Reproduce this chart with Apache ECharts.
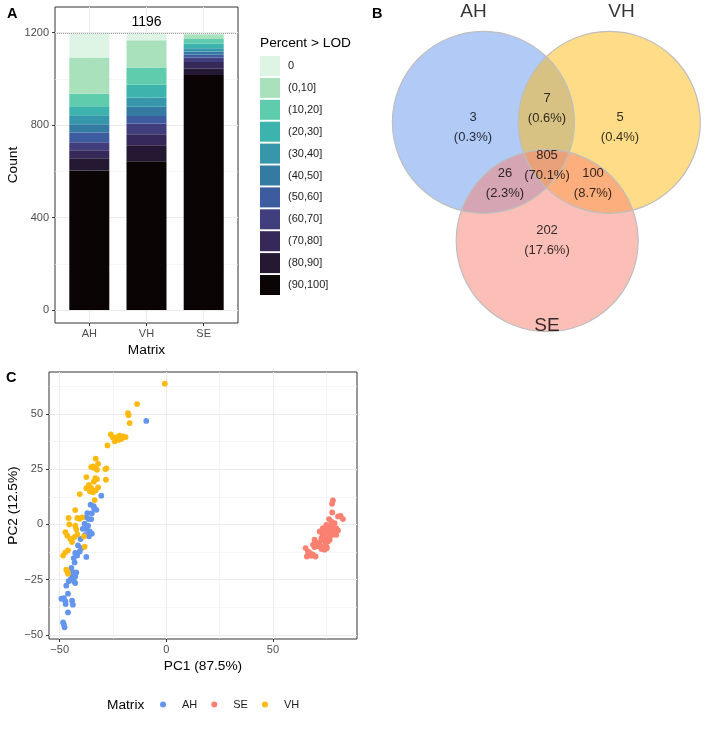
<!DOCTYPE html>
<html><head><meta charset="utf-8">
<script src="https://cdn.jsdelivr.net/npm/echarts@6/dist/echarts.min.js"></script>
<style>html,body{margin:0;padding:0;background:#fff}#c{width:716px;height:730px}</style>
</head><body><div id="c"></div>
<script>
// ---------- DATA ----------
const matrices = ['AH', 'VH', 'SE'];
const lodLevels = ['0', '(0,10]', '(10,20]', '(20,30]', '(30,40]', '(40,50]', '(50,60]', '(60,70]', '(70,80]', '(80,90]', '(90,100]'];
const countAH = [104, 156, 54, 39, 39, 36, 42, 35, 34, 53, 604];
const countVH = [29, 118, 74, 55, 41, 39, 33, 46, 48, 69, 644];
const countSE = [3, 20, 20, 20, 14, 13, 14, 19, 29, 27, 1017];
const yTicksA = [0, 400, 800, 1200];
const yMinorA = [200, 600, 1000];

const vennSetNames = ['AH', 'VH', 'SE'];
const vennRegions = ['AH', 'AH&VH', 'VH', 'AH&VH&SE', 'AH&SE', 'VH&SE', 'SE'];
const vennCounts = [3, 7, 5, 805, 26, 100, 202];

const pcaAH = [[-9.4,46.8],[-30.5,13.0],[-35.5,8.9],[-33.9,7.4],[-32.8,6.6],[-34.9,5.1],[-34.0,8.3],
  [-37.0,5.1],[-37.5,3.3],[-36.4,2.4],[-35.2,2.4],[-38.3,0.3],[-36.7,-0.6],[-37.5,-2.1],[-35.9,-3.2],
  [-34.9,-4.2],[-36.3,-5.4],[-38.0,-4.7],[-39.2,-2.0],[-40.2,-6.6],[-41.4,-9.5],[-39.8,-10.7],[-40.6,-12.2],
  [-42.7,-12.9],[-43.4,-15.2],[-43.0,-17.2],[-41.8,-14.0],[-37.5,-14.7],[-44.5,-19.7],[-43.8,-21.7],
  [-42.2,-21.7],[-42.7,-23.5],[-44.8,-24.7],[-45.8,-25.7],[-46.9,-27.7],[-43.3,-25.7],[-42.7,-26.5],
  [-44.0,-23.0],[-46.1,-31.3],[-48.0,-33.3],[-49.2,-33.6],[-47.3,-34.8],[-47.2,-36.0],[-44.2,-34.5],
  [-43.8,-36.3],[-46.1,-39.8],[-48.4,-44.3],[-48.0,-45.3],[-47.7,-46.5]];
const pcaVH = [[-0.7,63.6],[-13.7,54.4],[-18.0,50.3],[-17.7,49.4],[-17.2,45.8],
  [-26.0,40.7],[-25.0,39.3],[-24.2,37.6],[-23.1,39.5],[-21.9,40.1],[-21.1,38.6],[-20.3,39.8],[-19.1,39.5],[-22.5,38.2],
  [-27.6,35.7],[-33.1,29.7],[-35.2,25.9],[-33.6,25.5],[-32.0,27.4],[-32.5,24.7],[-34.3,26.2],[-28.6,25.0],[-28.1,25.3],
  [-37.5,21.4],[-33.3,20.9],[-32.5,20.5],[-28.3,20.2],[-34.0,19.3],
  [-36.3,17.9],[-37.5,16.4],[-35.2,16.4],[-34.4,14.5],[-33.1,15.4],[-32.0,16.7],[-35.8,15.0],
  [-40.6,13.7],[-33.6,11.0],[-42.7,6.5],[-45.8,2.9],[-45.5,0.0],[-41.7,2.9],[-40.6,2.6],[-39.5,3.2],
  [-42.7,-0.6],[-42.2,-2.2],[-47.3,-3.5],[-46.4,-5.1],[-45.0,-6.6],[-44.2,-8.0],[-43.0,-5.7],[-41.7,-4.5],
  [-38.6,-5.4],[-38.3,-10.1],[-46.1,-11.7],[-47.3,-12.6],[-48.4,-14.1],[-46.4,-21.2],[-46.1,-22.3],[-46.9,-20.5]];
const pcaSE = [[78.1,10.8],[77.7,9.3],[77.8,5.4],[81.7,3.9],[82.8,2.4],[80.5,3.6],
  [76.3,2.4],[77.3,1.4],[78.9,0.6],[75.0,-0.2],[76.6,-0.6],[78.1,-0.9],[79.7,-1.7],[80.5,-2.7],
  [73.4,-1.7],[74.7,-2.4],[75.8,-3.2],[76.9,-3.9],[78.9,-3.6],[79.7,-4.7],
  [71.9,-3.2],[73.1,-4.2],[74.2,-5.1],[75.3,-6.2],[76.6,-5.4],[78.1,-4.7],
  [72.7,-6.2],[73.8,-6.9],[74.7,-8.1],[75.8,-7.7],[76.6,-6.9],
  [69.5,-6.9],[70.3,-8.4],[71.6,-9.2],[72.7,-9.9],[73.8,-10.7],[75.0,-9.9],
  [68.8,-9.2],[69.5,-10.2],[71.1,-9.9],[71.9,-8.1],
  [65.3,-10.7],[66.4,-12.2],[67.5,-13.0],[68.8,-13.7],[70.0,-14.5],[65.9,-14.5],[67.9,-14.2],
  [72.7,-11.1],[74.2,-11.4],[75.3,-10.7],[75.8,-0.9],[76.9,-2.4],[78.1,-2.4]];
const pcaLegendOrder = ['AH', 'SE', 'VH'];
const xTicksC = [-50, 0, 50];
const xMinorC = [-25, 25, 75];
const yTicksC = [-50, -25, 0, 25, 50];
const yMinorC = [-37.5, -12.5, 12.5, 37.5, 62.5];

// ---------- STYLE / LAYOUT ----------
const FONT = "'Liberation Sans', Arial, Helvetica, sans-serif";
const lodColors = ['#DEF5E5', '#A8E1BC', '#5FCDAD', '#3CB4AD', '#3597A9', '#357AA2', '#3C5C9F', '#413E7E', '#37285A', '#251833', '#0B0405'];
const matrixColors = { AH: '#6495ED', VH: '#FFB90F', SE: '#FA8072' };
const vennLayout = { cx: [113.4, 239.3, 177.2], cy: [122.3, 122.3, 240.7], r: 91 };
const vennLabelPos = [[103, 127], [177, 108], [250, 127], [177, 165], [135, 183], [223, 183], [177, 240]];
const vennNamePos = [[103.5, 12], [251.5, 12], [177, 326]];
const Y_A = { min: -56, max: 1311 };

const TICK = { color: '#4D4D4D', fontSize: 11, fontFamily: FONT };
const TITLE = { color: '#000', fontSize: 13.7, fontFamily: FONT };
const HIDDEN_LABEL = { show: true, position: 'inside', formatter: '{b}', color: '#000', fontFamily: FONT };
const NO_LINE = { show: false, onZero: false };

function hexA(hex, a) {
  const n = parseInt(hex.slice(1), 16);
  return `rgba(${(n >> 16) & 255},${(n >> 8) & 255},${n & 255},${a})`;
}
function gridLines(xi, yi, xs, ys, width, color) {
  return {
    type: 'line', xAxisIndex: xi, yAxisIndex: yi, data: [], silent: true, z: 0,
    markLine: {
      z: 0, zlevel: 0,
      silent: true, symbol: ['none', 'none'], animation: false, label: { show: false },
      lineStyle: { color, width, type: 'solid' }, emphasis: { disabled: true },
      data: [...xs.map(v => ({ xAxis: v })), ...ys.map(v => ({ yAxis: v }))]
    }
  };
}
const minus = v => String(v).replace('-', '\u2212');

const countsByMatrix = { AH: countAH, VH: countVH, SE: countSE };
const totalA = countAH.reduce((a, b) => a + b, 0);

const barSeries = lodLevels.map((lv, i) => ({
  name: lv, type: 'bar', stack: 'lod', xAxisIndex: 3, yAxisIndex: 3, barWidth: 40, z: 2,
  itemStyle: { color: lodColors[i] }, emphasis: { disabled: true },
  data: matrices.map(m => countsByMatrix[m][i])
})).reverse();

const totalLine = {
  type: 'line', xAxisIndex: 0, yAxisIndex: 0, data: [], silent: true, z: 4,
  markLine: {
    z: 6,
    silent: true, symbol: ['none', 'none'], animation: false,
    lineStyle: { color: '#9A9A9A', width: 1, type: 'dotted' },
    label: { show: true, position: 'insideMiddleTop', formatter: String(totalA), color: '#000', fontSize: 14, fontFamily: FONT, distance: 4 },
    data: [{ yAxis: totalA }]
  }
};

const vennTotal = vennCounts.reduce((a, b) => a + b, 0);
const vennCircleData = vennSetNames.map((s, i) => [vennLayout.cx[i], vennLayout.cy[i], vennLayout.r, i]);

function circleRender(fill) {
  return function (params, api) {
    const c = api.coord([api.value(0), api.value(1)]);
    const r = api.size([api.value(2), 0])[0];
    const col = matrixColors[vennSetNames[api.value(3)]];
    return {
      type: 'circle', shape: { cx: c[0], cy: c[1], r: r },
      style: fill ? { fill: hexA(col, 0.5), stroke: 'none' } : { fill: 'none', stroke: '#BEBEBE', lineWidth: 1.2 }
    };
  };
}

const option = {
  animation: false,
  backgroundColor: '#fff',
  textStyle: { fontFamily: FONT },
  title: [
    { text: 'A', left: 7, top: 6, padding: 0, textStyle: { fontSize: 14.5, fontWeight: 'bold', color: '#000', fontFamily: FONT } },
    { text: 'B', left: 372, top: 6, padding: 0, textStyle: { fontSize: 14.5, fontWeight: 'bold', color: '#000', fontFamily: FONT } },
    { text: 'C', left: 6, top: 370, padding: 0, textStyle: { fontSize: 14.5, fontWeight: 'bold', color: '#000', fontFamily: FONT } },
    { text: 'Percent > LOD', left: 260, top: 36, padding: 0, textStyle: { fontSize: 13.7, fontWeight: 'normal', color: '#000', fontFamily: FONT } },
    { text: 'Matrix', left: 107, top: 698, padding: 0, textStyle: { fontSize: 13.7, fontWeight: 'normal', color: '#000', fontFamily: FONT } }
  ],
  legend: [
    {
      data: lodLevels, orient: 'vertical', left: 260, top: 56, padding: 0,
      itemWidth: 20, itemHeight: 20, itemGap: 1.9, icon: 'rect', selectedMode: false,
      textStyle: { color: '#1A1A1A', fontSize: 11, fontFamily: FONT, padding: [0, 0, 0, 3] }
    },
    {
      data: pcaLegendOrder, orient: 'horizontal', left: 160, top: 699, padding: 0,
      itemWidth: 6, itemHeight: 6, itemGap: 14, icon: 'circle', selectedMode: false,
      textStyle: { color: '#1A1A1A', fontSize: 11, fontFamily: FONT, padding: [0, 0, 0, 11] }
    }
  ],
  grid: [
    { left: 55, top: 7, width: 183, height: 316, show: true, borderColor: '#333', borderWidth: 1, backgroundColor: 'transparent' },
    { left: 370, top: 0, width: 346, height: 340, show: false },
    { left: 49, top: 372, width: 308, height: 267, show: true, borderColor: '#333', borderWidth: 1, backgroundColor: 'transparent' },
    { left: 60.7, top: 7, width: 171.6, height: 316, show: false }
  ],
  xAxis: [
    { gridIndex: 0, type: 'value', min: 0, max: 1, show: false },
    { gridIndex: 1, type: 'value', min: 0, max: 346, show: false },
    {
      gridIndex: 2, type: 'value', min: -55, max: 89.4,
      axisLine: NO_LINE, splitLine: { show: false },
      axisTick: { show: true, customValues: xTicksC, length: 3, lineStyle: { color: '#333' } },
      axisLabel: { customValues: xTicksC, margin: 5, ...TICK, formatter: minus },
      name: 'PC1 (87.5%)', nameLocation: 'middle', nameGap: 20, nameTextStyle: TITLE
    },
    {
      gridIndex: 3, type: 'category', data: matrices, boundaryGap: true,
      axisLine: NO_LINE, splitLine: { show: false },
      axisTick: { show: true, alignWithLabel: true, length: 3, lineStyle: { color: '#333' } },
      axisLabel: { margin: 5, ...TICK },
      name: 'Matrix', nameLocation: 'middle', nameGap: 20, nameTextStyle: TITLE
    }
  ],
  yAxis: [
    {
      gridIndex: 0, type: 'value', min: Y_A.min, max: Y_A.max,
      axisLine: NO_LINE, splitLine: { show: false },
      axisTick: { show: true, customValues: yTicksA, length: 3, lineStyle: { color: '#333' } },
      axisLabel: { customValues: yTicksA, margin: 6, ...TICK, formatter: v => String(v) },
      name: 'Count', nameLocation: 'middle', nameGap: 33, nameTextStyle: TITLE
    },
    { gridIndex: 1, type: 'value', min: 0, max: 340, inverse: true, show: false },
    {
      gridIndex: 2, type: 'value', min: -51.8, max: 68.9,
      axisLine: NO_LINE, splitLine: { show: false },
      axisTick: { show: true, customValues: yTicksC, length: 3, lineStyle: { color: '#333' } },
      axisLabel: { customValues: yTicksC, margin: 6, ...TICK, formatter: minus },
      name: 'PC2 (12.5%)', nameLocation: 'middle', nameGap: 28, nameTextStyle: TITLE
    },
    { gridIndex: 3, type: 'value', min: Y_A.min, max: Y_A.max, show: false }
  ],
  series: [
    gridLines(0, 0, [], yMinorA, 0.6, '#F0F0F0'),
    gridLines(0, 0, [], yTicksA, 1, '#EBEBEB'),
    gridLines(3, 3, matrices, [], 1, '#EBEBEB'),
    ...barSeries,
    totalLine,
    {
      name: 'vennFill', type: 'custom', xAxisIndex: 1, yAxisIndex: 1, z: 1, silent: true,
      renderItem: circleRender(true), data: vennCircleData
    },
    {
      name: 'vennLine', type: 'custom', xAxisIndex: 1, yAxisIndex: 1, z: 2, silent: true,
      renderItem: circleRender(false), data: vennCircleData
    },
    {
      name: 'vennCounts', type: 'scatter', xAxisIndex: 1, yAxisIndex: 1, z: 3, silent: true,
      symbolSize: 1, itemStyle: { color: 'rgba(0,0,0,0)' },
      label: { ...HIDDEN_LABEL, fontSize: 13, lineHeight: 20, align: 'center' },
      data: vennRegions.map((r, i) => ({
        name: vennCounts[i] + '\n(' + (vennCounts[i] / vennTotal * 100).toFixed(1) + '%)',
        value: vennLabelPos[i]
      }))
    },
    {
      name: 'vennNames', type: 'scatter', xAxisIndex: 1, yAxisIndex: 1, z: 3, silent: true,
      symbolSize: 1, itemStyle: { color: 'rgba(0,0,0,0)' },
      label: { ...HIDDEN_LABEL, fontSize: 19 },
      data: vennSetNames.map((s, i) => ({ name: s, value: vennNamePos[i] }))
    },
    gridLines(2, 2, xMinorC, yMinorC, 0.6, '#F0F0F0'),
    gridLines(2, 2, xTicksC, yTicksC, 1, '#EBEBEB'),
    ...['AH', 'SE', 'VH'].map(m => ({
      name: m, type: 'scatter', xAxisIndex: 2, yAxisIndex: 2, z: 3, symbolSize: 5.8,
      itemStyle: { color: matrixColors[m], opacity: 1 }, emphasis: { disabled: true },
      data: { AH: pcaAH, SE: pcaSE, VH: pcaVH }[m]
    }))
  ]
};
const chart = echarts.init(document.getElementById('c'), null, { renderer: 'canvas' });
chart.setOption(option);
</script></body></html>
